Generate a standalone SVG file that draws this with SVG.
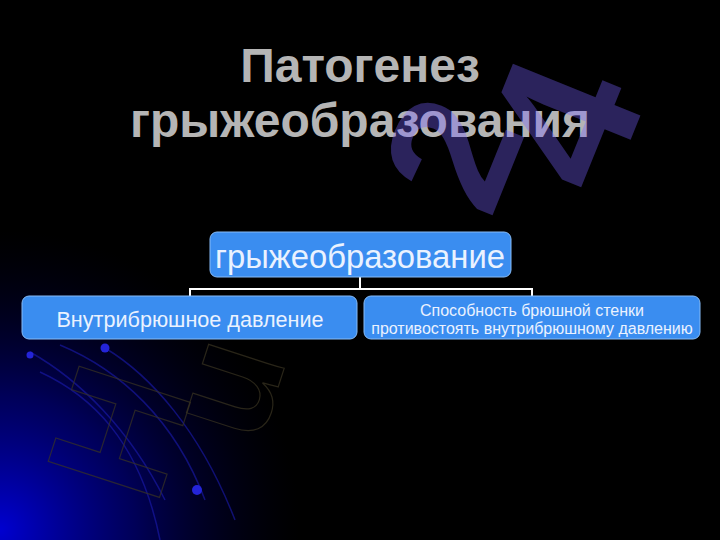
<svg xmlns="http://www.w3.org/2000/svg" width="720" height="540" viewBox="0 0 720 540">
  <defs>
    <radialGradient id="glow" cx="0" cy="530" r="300" gradientUnits="userSpaceOnUse">
      <stop offset="0" stop-color="#0000d0" stop-opacity="1"/>
      <stop offset="0.45" stop-color="#0000a0" stop-opacity="0.55"/>
      <stop offset="1" stop-color="#000030" stop-opacity="0"/>
    </radialGradient>
    <style>
      .title { font-family: "Liberation Sans", Arial, sans-serif; font-weight: bold; font-size: 48px; fill: #b5b5b5; text-anchor: middle; }
      .box { fill: #3a8df0; stroke: #86bbf7; stroke-width: 1; }
      .lbl { font-family: "Liberation Sans", Arial, sans-serif; fill: #eaf2ff; text-anchor: middle; }
      .conn { stroke: #ffffff; stroke-width: 2; fill: none; }
      .wm { font-family: "Liberation Sans", Arial, sans-serif; font-weight: bold; text-anchor: middle; }
      .wmfill { fill: #7861ff; fill-opacity: 0.36; }
      .wmline { fill: none; stroke: #3a3522; stroke-width: 1.2; stroke-opacity: 0.7; }
      .deco { fill: none; stroke: #1a1ab0; stroke-width: 1.5; stroke-opacity: 0.6; }
    </style>
  </defs>

  <rect x="0" y="0" width="720" height="540" fill="#000000"/>
  <rect x="0" y="200" width="320" height="340" fill="url(#glow)"/>

  <g id="decoration">
    <path class="deco" d="M30,352 C80,380 130,430 165,500"/>
    <path class="deco" d="M60,345 C120,370 175,420 205,500"/>
    <path class="deco" d="M105,348 C150,375 200,430 235,520"/>
    <path class="deco" d="M40,372 C90,395 140,440 160,540"/>
    <circle cx="30" cy="355" r="3.5" fill="#2424d8"/>
    <circle cx="105" cy="348" r="4.5" fill="#2424d8"/>
    <circle cx="197" cy="490" r="5" fill="#2424d8"/>
  </g>

  <g id="title">
    <text class="title" x="360" y="82">Патогенез</text>
    <text class="title" x="360" y="137">грыжеобразования</text>
  </g>

  <g id="connectors">
    <path class="conn" d="M360,277 V289"/>
    <path class="conn" d="M190,289 H532"/>
    <path class="conn" d="M190,288 V297"/>
    <path class="conn" d="M532,288 V297"/>
  </g>

  <g id="node-root">
    <rect class="box" x="210" y="232" width="301" height="45" rx="7"/>
    <text class="lbl" x="360" y="268" font-size="32.8">грыжеобразование</text>
  </g>

  <g id="node-left">
    <rect class="box" x="22" y="296" width="335" height="43" rx="7"/>
    <text class="lbl" x="190" y="327" font-size="21.6">Внутрибрюшное давление</text>
  </g>

  <g id="node-right">
    <rect class="box" x="364" y="296" width="336" height="43" rx="7"/>
    <text class="lbl" x="532" y="316" font-size="16">Способность брюшной стенки</text>
    <text class="lbl" x="532" y="334" font-size="16">противостоять внутрибрюшному давлению</text>
  </g>

  <g id="watermark">
    <text class="wm wmline" font-size="170" transform="translate(117,431) rotate(-72)" y="61">H</text>
    <text class="wm wmline" font-size="150" transform="translate(235,390) rotate(-72)" y="40">u</text>
    <text class="wm wmfill" font-size="175" transform="translate(450,152) rotate(-68)" y="63">2</text>
    <text class="wm wmfill" font-size="200" transform="translate(560,122) rotate(-68)" y="72">4</text>
  </g>
</svg>
